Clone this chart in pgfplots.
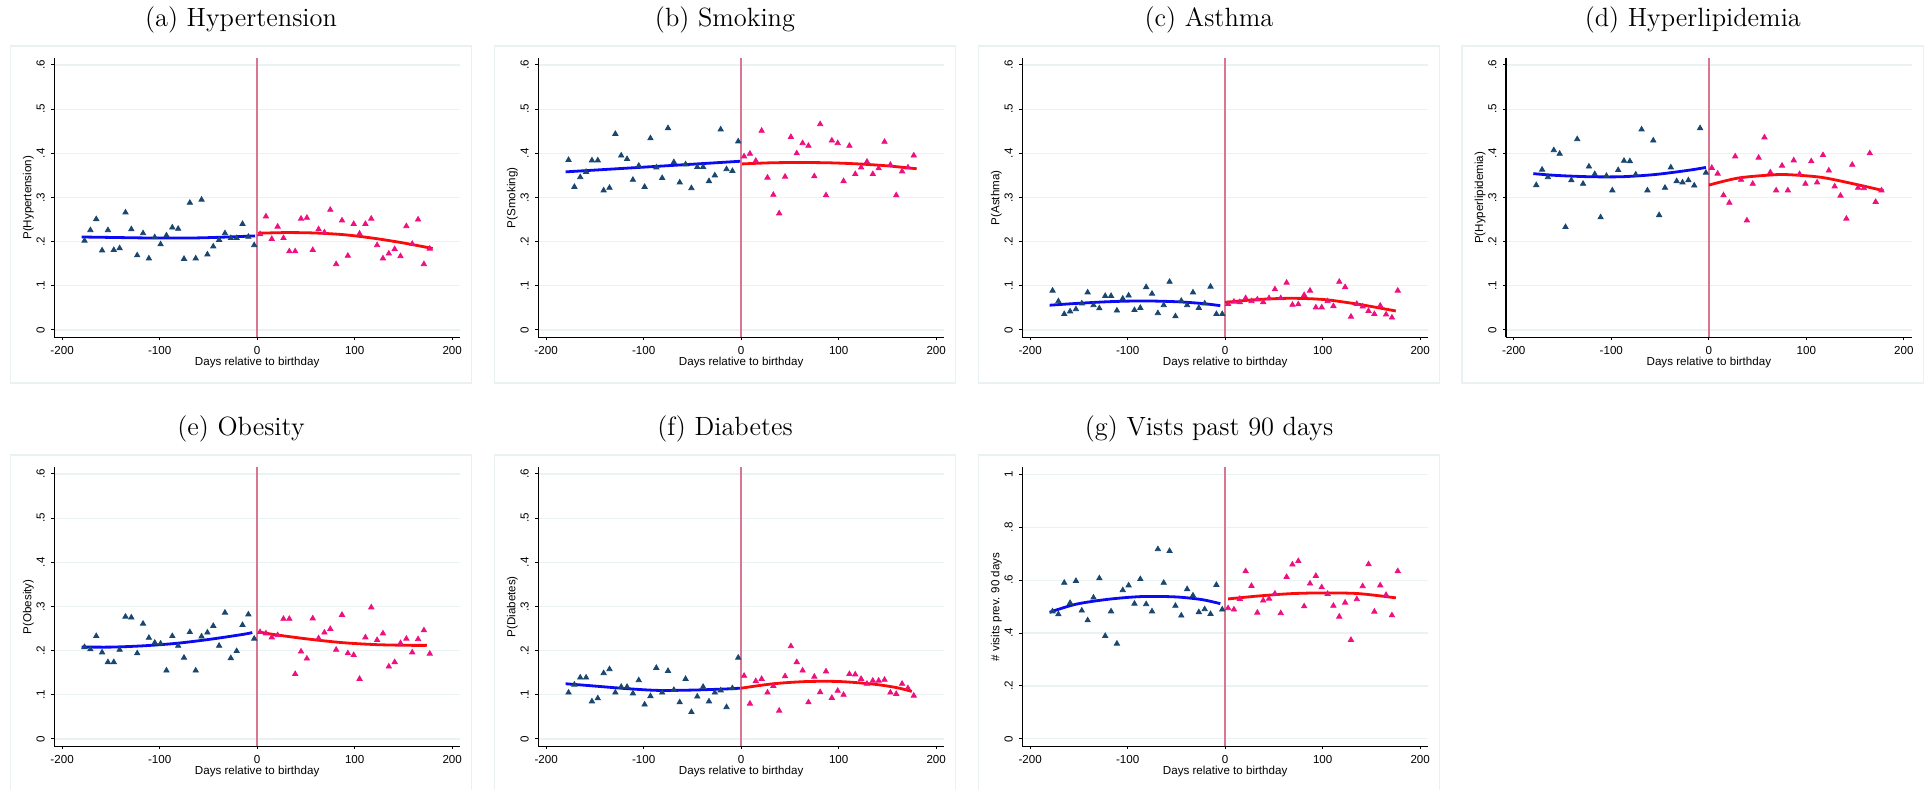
\documentclass[border=0pt]{standalone}
\usepackage{fontspec}
\setsansfont{Liberation Sans}
\usepackage{pgfplots}
\usepackage{pgfplotstable}
\pgfplotsset{compat=1.18}

\definecolor{navyc}{RGB}{26,71,111}
\definecolor{pinkc}{RGB}{238,16,128}
\definecolor{fitb}{RGB}{10,10,245}
\definecolor{fitr}{RGB}{250,10,10}
\definecolor{vlc}{RGB}{218,118,145}
\definecolor{gridc}{RGB}{234,242,243}
\definecolor{boxc}{RGB}{233,241,243}

% pre-birthday bins: x, then panels a..g
\pgfplotstableread{
x a b c d e f g
-177 .202 .385 .089 .328 .208 .105 .482
-171 .226 .324 .065 .363 .203 .123 .471
-165 .251 .346 .036 .346 .233 .139 .590
-159 .180 .358 .042 .407 .196 .139 .514
-153 .226 .384 .047 .399 .174 .085 .597
-147 .181 .384 .060 .233 .174 .092 .485
-141 .185 .316 .085 .339 .202 .149 .448
-135 .266 .322 .056 .432 .277 .158 .534
-129 .228 .444 .049 .331 .275 .105 .607
-123 .169 .395 .077 .370 .194 .118 .389
-117 .219 .387 .077 .353 .261 .118 .482
-111 .162 .340 .044 .255 .229 .103 .360
-105 .210 .372 .071 .349 .218 .133 .562
-99 .194 .324 .078 .316 .216 .078 .580
-93 .214 .434 .045 .362 .155 .097 .511
-87 .232 .368 .050 .383 .233 .161 .604
-81 .229 .344 .097 .382 .211 .105 .509
-75 .161 .457 .082 .352 .184 .154 .482
-69 .288 .380 .038 .454 .242 .111 .717
-63 .162 .334 .056 .316 .155 .083 .590
-57 .295 .375 .109 .429 .232 .136 .710
-51 .171 .321 .031 .260 .241 .061 .503
-45 .189 .369 .066 .322 .256 .096 .466
-39 .204 .369 .056 .368 .211 .118 .566
-33 .219 .337 .085 .337 .286 .085 .542
-27 .208 .350 .050 .334 .183 .105 .479
-21 .208 .454 .060 .339 .199 .110 .490
-15 .240 .364 .098 .327 .258 .072 .472
-9 .211 .360 .036 .457 .282 .115 .582
-3 .192 .427 .036 .356 .227 .184 .489
}\bluedata

% post-birthday bins
\pgfplotstableread{
x a b c d e f g
3 .217 .393 .059 .367 .242 .143 .494
9 .257 .399 .064 .354 .239 .080 .489
15 .206 .383 .063 .305 .230 .131 .529
21 .234 .451 .072 .288 .235 .136 .634
27 .208 .345 .065 .393 .272 .105 .578
33 .178 .306 .069 .340 .272 .120 .477
39 .178 .264 .063 .248 .147 .064 .523
45 .252 .347 .072 .331 .198 .142 .530
51 .254 .437 .092 .390 .182 .210 .549
57 .181 .400 .072 .436 .273 .174 .475
63 .228 .423 .107 .357 .228 .155 .612
69 .221 .417 .057 .316 .241 .083 .659
75 .272 .348 .058 .372 .249 .141 .672
81 .149 .466 .079 .316 .202 .106 .501
87 .248 .305 .089 .384 .281 .153 .587
93 .168 .429 .051 .353 .194 .093 .616
99 .240 .423 .051 .331 .190 .109 .573
105 .218 .337 .065 .382 .136 .100 .548
111 .240 .417 .054 .334 .230 .147 .503
117 .252 .353 .109 .396 .298 .146 .462
123 .192 .368 .097 .361 .224 .136 .515
129 .162 .381 .030 .325 .239 .125 .374
135 .173 .353 .059 .304 .164 .132 .528
141 .183 .366 .053 .252 .174 .132 .577
147 .167 .426 .043 .374 .217 .134 .660
153 .235 .374 .036 .322 .227 .105 .481
159 .195 .305 .055 .321 .196 .102 .580
165 .250 .359 .035 .400 .226 .125 .544
171 .149 .368 .028 .290 .246 .115 .467
177 .184 .395 .089 .316 .193 .098 .634
}\reddata

\newcommand\sfs{\sffamily\fontsize{5.8}{7}\selectfont}
\newcommand\ttl{\rmfamily\fontsize{13.2}{15}\selectfont}

\pgfplotsset{
  panel/.style={
    scale only axis, width=202.85pt, height=139.5pt,
    anchor=north west,
    xmin=-208, xmax=208,
    axis lines*=left, axis line style={-, black, line width=0.6pt},
    xtick={-200,-100,0,100,200}, xticklabels={-200,-100,0,100,200},
    tick align=outside, major tick length=1.6pt,
    tick style={black, line width=0.5pt},
    ymajorgrids, grid style={gridc, line width=0.6pt},
    ticklabel style={font=\sfs},
    xticklabel style={anchor=north, inner sep=0pt},
    xticklabel shift=2.7pt,
    yticklabel style={rotate=90, anchor=south, inner sep=0pt},
    yticklabel shift=3pt,
    xlabel={Days relative to birthday},
    label style={font=\sfs},
    xlabel style={at={(axis description cs:0.5,-0.091)}, anchor=center},
    ylabel style={at={(axis description cs:-0.0641,0.5)}, anchor=center},
  },
  p6/.style={ymin=-0.0166, ymax=0.6152,
    ytick={0,0.1,0.2,0.3,0.4,0.5,0.6}, yticklabels={0,.1,.2,.3,.4,.5,.6}},
  bm/.style={only marks, mark=triangle*, mark size=1.5pt, navyc, mark options={fill=navyc, draw=navyc}},
  rm/.style={only marks, mark=triangle*, mark size=1.5pt, pinkc, mark options={fill=pinkc, draw=pinkc}},
  bl/.style={fitb, line width=1.4pt, smooth, no marks},
  rl/.style={fitr, line width=1.4pt, smooth, no marks},
  vl/.style={vlc, line width=1pt, no marks},
}

\begin{document}
\begin{tikzpicture}
\useasboundingbox (0,0) rectangle (964pt,395pt);

% outer boxes
\draw[boxc, line width=0.6pt] (5.15pt,372pt) rectangle (235.9pt,203.5pt);
\draw[boxc, line width=0.6pt] (247.15pt,372pt) rectangle (477.9pt,203.5pt);
\draw[boxc, line width=0.6pt] (489.15pt,372pt) rectangle (719.9pt,203.5pt);
\draw[boxc, line width=0.6pt] (731pt,372pt) rectangle (961.75pt,203.5pt);
\draw[boxc, line width=0.6pt] (5.15pt,167.5pt) rectangle (235.9pt,-1pt);
\draw[boxc, line width=0.6pt] (247.15pt,167.5pt) rectangle (477.9pt,-1pt);
\draw[boxc, line width=0.6pt] (489.15pt,167.5pt) rectangle (719.9pt,-1pt);

% titles
\node[anchor=base, inner sep=0pt] at (120.5pt,381.65pt) {\ttl (a) Hypertension};
\node[anchor=base, inner sep=0pt] at (362.5pt,381.65pt) {\ttl (b) Smoking};
\node[anchor=base, inner sep=0pt] at (604.5pt,381.65pt) {\ttl (c) Asthma};
\node[anchor=base, inner sep=0pt] at (846.4pt,381.65pt) {\ttl (d) Hyperlipidemia};
\node[anchor=base, inner sep=0pt] at (120.5pt,177.45pt) {\ttl (e) Obesity};
\node[anchor=base, inner sep=0pt] at (362.5pt,177.45pt) {\ttl (f) Diabetes};
\node[anchor=base, inner sep=0pt] at (604.5pt,177.45pt) {\ttl (g) Vists past 90 days};

% (a)
\begin{axis}[panel, p6, at={(27.15pt,365.85pt)}, ylabel={P(Hypertension)}]
\addplot[vl] coordinates {(0,-0.0166) (0,0.6152)};
\addplot[bm] table[x=x, y=a] {\bluedata};
\addplot[rm] table[x=x, y=a] {\reddata};
\addplot[bl] coordinates {(-180,0.2105) (-150,0.2095) (-120,0.2085) (-90,0.2080) (-60,0.2085) (-30,0.2105) (-2,0.2130)};
\addplot[rl] coordinates {(1,0.2190) (30,0.2205) (60,0.2195) (90,0.2155) (120,0.2075) (150,0.1970) (180,0.1845)};
\end{axis}

% (b)
\begin{axis}[panel, p6, at={(269.15pt,365.85pt)}, ylabel={P(Smoking)}]
\addplot[vl] coordinates {(0,-0.0166) (0,0.6152)};
\addplot[bm] table[x=x, y=b] {\bluedata};
\addplot[rm] table[x=x, y=b] {\reddata};
\addplot[bl] coordinates {(-180,0.358) (-135,0.364) (-90,0.370) (-45,0.376) (-1,0.382)};
\addplot[rl] coordinates {(1,0.376) (30,0.3785) (60,0.3792) (90,0.3785) (120,0.376) (150,0.3716) (180,0.365)};
\end{axis}

% (c)
\begin{axis}[panel, p6, at={(511.15pt,365.85pt)}, ylabel={P(Asthma)}]
\addplot[vl] coordinates {(0,-0.0166) (0,0.6152)};
\addplot[bm] table[x=x, y=c] {\bluedata};
\addplot[rm] table[x=x, y=c] {\reddata};
\addplot[bl] coordinates {(-180,0.056) (-153,0.060) (-119,0.064) (-85,0.0657) (-51,0.064) (-24,0.060) (-5,0.055)};
\addplot[rl] coordinates {(0,0.0626) (34,0.069) (68,0.0717) (102,0.0687) (137,0.058) (175,0.043)};
\end{axis}

% (d)
\begin{axis}[panel, p6, at={(753pt,365.85pt)}, ylabel={P(Hyperlipidemia)}]
\addplot[vl] coordinates {(0,-0.0166) (0,0.6152)};
\addplot[bm] table[x=x, y=d] {\bluedata};
\addplot[rm] table[x=x, y=d] {\reddata};
\addplot[bl] coordinates {(-180,0.354) (-157,0.350) (-123,0.347) (-89,0.347) (-55,0.352) (-21,0.3615) (-3,0.368)};
\addplot[rl] coordinates {(0,0.328) (30,0.344) (64,0.351) (81,0.3517) (115,0.3457) (149,0.3306) (179,0.3155)};
\end{axis}

% (e)
\begin{axis}[panel, p6, at={(27.15pt,161.35pt)}, ylabel={P(Obesity)}]
\addplot[vl] coordinates {(0,-0.0166) (0,0.6152)};
\addplot[bm] table[x=x, y=e] {\bluedata};
\addplot[rm] table[x=x, y=e] {\reddata};
\addplot[bl] coordinates {(-180,0.2083) (-150,0.208) (-116,0.211) (-82,0.2167) (-48,0.2258) (-14,0.237) (-5,0.241)};
\addplot[rl] coordinates {(1,0.2424) (20,0.2356) (54,0.2258) (88,0.218) (122,0.2136) (157,0.212) (174,0.212)};
\end{axis}

% (f)
\begin{axis}[panel, p6, at={(269.15pt,161.35pt)}, ylabel={P(Diabetes)}]
\addplot[vl] coordinates {(0,-0.0166) (0,0.6152)};
\addplot[bm] table[x=x, y=f] {\bluedata};
\addplot[rm] table[x=x, y=f] {\reddata};
\addplot[bl] coordinates {(-180,0.125) (-154,0.1205) (-120,0.1144) (-86,0.110) (-52,0.1106) (-18,0.113) (-1,0.115)};
\addplot[rl] coordinates {(0,0.115) (33,0.125) (67,0.130) (101,0.130) (136,0.124) (160,0.116) (175,0.1076)};
\end{axis}

% (g)
\begin{axis}[panel, at={(511.15pt,161.35pt)}, ylabel={\# visits prev. 90 days},
  ymin=-0.028, ymax=1.0265, ytick={0,0.2,0.4,0.6,0.8,1}, yticklabels={0,.2,.4,.6,.8,1}]
\addplot[vl] coordinates {(0,-0.028) (0,1.0265)};
\addplot[bm] table[x=x, y=g] {\bluedata};
\addplot[rm] table[x=x, y=g] {\reddata};
\addplot[bl] coordinates {(-180,0.4785) (-153,0.509) (-119,0.528) (-85,0.538) (-51,0.5366) (-24,0.5265) (-5,0.511)};
\addplot[rl] coordinates {(3,0.529) (34,0.540) (68,0.549) (102,0.5517) (137,0.549) (175,0.533)};
\end{axis}
\end{tikzpicture}
\end{document}
